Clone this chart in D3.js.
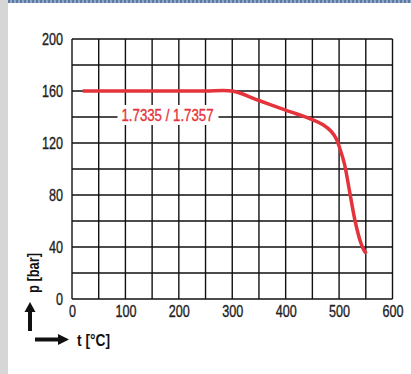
<!DOCTYPE html>
<html><head><meta charset="utf-8">
<script src="https://cdn.jsdelivr.net/npm/d3@7"></script>
<style>
html,body{margin:0;padding:0;background:#fff;}
svg{display:block;}
text{font-family:"Liberation Sans","Arial",sans-serif;}
</style></head>
<body>
<script>
const xTicks = [0,100,200,300,400,500,600];
const yTicks = [0,40,80,120,160,200];
const tValues = [20,100,200,250,300,350,400,450,470,485,495,502,510,520,530,540,546,551];
const pValues = [160,160,160,160,160,152.7,145.3,138,134,129,123,115,104,82,60,44,38,35];
const curveLabel = "1.7335 / 1.7357";
const xLabel = "t [°C]";
const yLabel = "p [bar]";

const W = 411, H = 374;
const FONT = '"Liberation Sans","Arial",sans-serif';
const svg = d3.select("body").append("svg").attr("width", W).attr("height", H);

// frame decoration
svg.append("rect").attr("x",0).attr("y",0).attr("width",8).attr("height",H).attr("fill","#d6d6d6");
svg.append("rect").attr("x",8).attr("y",0).attr("width",W-8).attr("height",3).attr("fill","#8fa8c8");
svg.append("line").attr("x1",8).attr("x2",W).attr("y1",1.5).attr("y2",1.5)
  .attr("stroke","#5d7aa3").attr("stroke-width",3).attr("stroke-dasharray","2,2");

const x = d3.scaleLinear().domain([0,600]).range([72,392.5]);
const y = d3.scaleLinear().domain([0,200]).range([299,39]);

const g = svg.append("g");
const xGrid = d3.range(0,601,50), yGrid = d3.range(0,201,20);
g.selectAll(".vg").data(xGrid).join("line")
  .attr("x1",d=>x(d)).attr("x2",d=>x(d)).attr("y1",y(0)).attr("y2",y(200))
  .attr("stroke","#111").attr("stroke-width",1.4);
g.selectAll(".hg").data(yGrid).join("line")
  .attr("x1",x(0)).attr("x2",x(600)).attr("y1",d=>y(d)).attr("y2",d=>y(d))
  .attr("stroke","#111").attr("stroke-width",1.4);

// tick labels
function styleTicks(sel){
  sel.attr("font-size",16).attr("fill","#222").attr("stroke","#222").attr("stroke-width",0.35)
    .style("font-family",FONT)
    .attr("textLength",d=>String(d).length*7).attr("lengthAdjust","spacingAndGlyphs");
}
const xAxis = d3.axisBottom(x).tickValues(xTicks).tickSize(0).tickPadding(7);
const xa = svg.append("g").attr("transform",`translate(0,${y(0)})`).call(xAxis);
xa.select(".domain").remove();
styleTicks(xa.selectAll("text"));

const yAxis = d3.axisLeft(y).tickValues(yTicks).tickSize(0).tickPadding(9);
const ya = svg.append("g").attr("transform",`translate(${x(0)},0)`).call(yAxis);
ya.select(".domain").remove();
styleTicks(ya.selectAll("text"));

// curve
const data = tValues.map((t,i)=>({t, p:pValues[i]}));
const line = d3.line().x(d=>x(d.t)).y(d=>y(d.p)).curve(d3.curveCatmullRom.alpha(0.5));
svg.append("path").datum(data).attr("d",line)
  .attr("fill","none").attr("stroke","#e4333b").attr("stroke-width",3.5)
  .attr("stroke-linecap","butt");

// label
const lx = 167.5, ly = 115;
svg.append("rect").attr("x",lx-50).attr("y",ly-10).attr("width",101).attr("height",20).attr("fill","#fff");
svg.append("text").attr("x",lx).attr("y",ly).attr("text-anchor","middle").attr("dy","0.36em")
  .attr("font-size",16.5).attr("fill","#e4333b").attr("stroke","#e4333b").attr("stroke-width",0.35)
  .attr("textLength",92).attr("lengthAdjust","spacingAndGlyphs").text(curveLabel);

// axis labels with arrows
svg.append("text").attr("transform","translate(39,273) rotate(-90)")
  .attr("text-anchor","middle").attr("font-size",16).attr("font-weight","bold").attr("fill","#111")
  .attr("textLength",40).attr("lengthAdjust","spacingAndGlyphs").text(yLabel);
svg.append("line").attr("x1",30).attr("x2",30).attr("y1",331).attr("y2",310)
  .attr("stroke","#111").attr("stroke-width",4);
svg.append("path").attr("d","M24.5,312 L35.5,312 L30,302 Z").attr("fill","#111");

svg.append("line").attr("x1",35).attr("x2",60).attr("y1",339.5).attr("y2",339.5)
  .attr("stroke","#111").attr("stroke-width",4);
svg.append("path").attr("d","M58,334 L58,345 L69,339.5 Z").attr("fill","#111");
svg.append("text").attr("x",77).attr("y",346).attr("font-size",16.5).attr("font-weight","bold")
  .attr("fill","#111").attr("textLength",33).attr("lengthAdjust","spacingAndGlyphs").text(xLabel);
</script>
</body></html>
